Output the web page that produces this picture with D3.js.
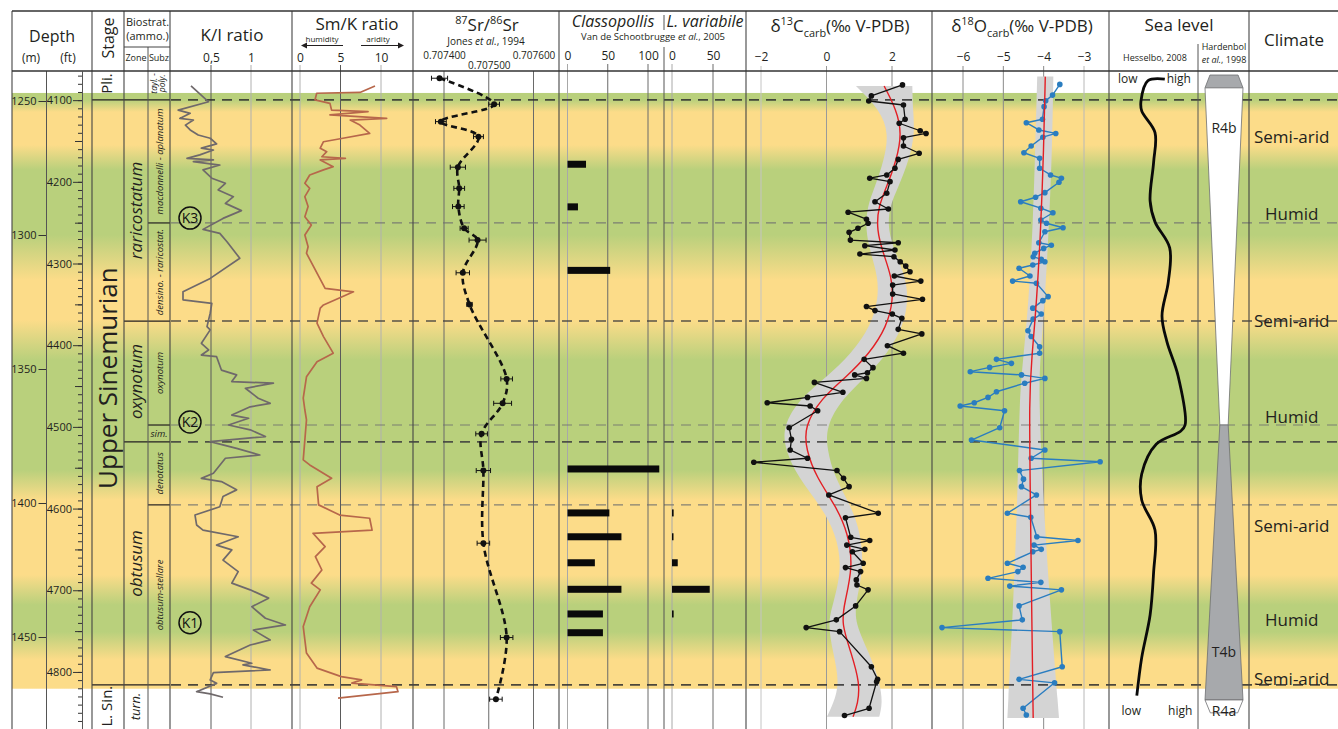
<!DOCTYPE html>
<meta charset='utf-8'>
<style>
  body { margin: 0; background: #fff; }
  svg { font-family: "Open Sans", "Noto Sans", sans-serif; }
</style>
<div class="chart"></div>
<script src="https://d3js.org/d3.v7.min.js"></script>
<script>
// ---------- data (depth in m) ----------
// background climate bands
var bandDepth = [1247.0,1249.6,1254.1,1266.4,1275.7,1300.0,1316.8,1331.7,1346.6,1387.7,1398.9,1426.8,1438.0,1448.1,1458.5,1469.3];
var bandKind = ["humid","humid","arid","arid","humid","humid","arid","arid","humid","humid","arid","arid","humid","humid","arid","arid"];

// biostratigraphy
var bioBounds = [1249.6, 1295.5, 1332.1, 1370.9, 1377.2, 1400.7, 1467.9];
var bioRank = ["stage","subzone","zone","subzone","zone","subzone","stage"];
var stageNames = ["Pli.", "Upper Sinemurian", "L. Sin."];
var stageLabelDepth = [1243.5, 1353.4, 1475.8];
var zoneNames = ["raricostatum", "oxynotum", "obtusum", "turn."];
var zoneTop = [1249.6, 1332.1, 1377.2, 1467.9];
var zoneBase = [1332.1, 1377.2, 1467.9, 1484.0];
var subzNames = ["macdonnelli - aplanatum", "densino. - raricostat.", "oxynotum", "sim.", "denotatus", "obtusum-stellare"];
var subzTop = [1249.6, 1295.5, 1332.1, 1370.9, 1377.2, 1400.7];
var subzBase = [1295.5, 1332.1, 1370.9, 1377.2, 1400.7, 1467.9];
var kNames = ["K3", "K2", "K1"];
var kDepth = [1293.7, 1369.8, 1444.7];

// K/I ratio
var kiDepth = [1244.4,1250.3,1253.4,1254.6,1256.5,1257.1,1259.0,1260.8,1262.7,1263.9,1266.0,1267.6,1268.3,1270.1,1271.4,1272.0,1272.6,1273.9,1275.7,1278.8,1280.7,1283.2,1285.7,1288.2,1290.9,1293.8,1297.9,1299.4,1302.5,1308.7,1316.2,1321.2,1324.2,1325.5,1329.2,1334.2,1335.4,1340.4,1342.9,1344.8,1345.4,1350.4,1352.2,1354.7,1355.3,1357.2,1360.9,1362.8,1364.1,1367.2,1368.4,1370.9,1372.7,1375.2,1377.1,1379.6,1382.1,1383.3,1388.9,1390.8,1392.0,1395.1,1397.6,1401.4,1404.5,1408.2,1410.1,1412.6,1415.7,1417.5,1421.3,1425.6,1429.9,1432.4,1435.5,1438.7,1443.0,1445.5,1447.4,1451.1,1453.0,1457.3,1459.8,1460.4,1462.3,1463.3,1466.0,1467.3,1470.4,1471.2,1472.5];
var kiValue = [0.25,0.47,0.09,0.24,0.11,0.28,0.18,0.24,0.34,0.49,0.57,0.38,0.53,0.36,0.20,0.53,0.28,0.61,0.40,0.51,0.68,0.59,0.78,0.68,0.88,0.65,0.40,0.61,0.70,0.86,0.49,0.15,0.15,0.51,0.49,0.45,0.49,0.38,0.47,0.38,0.57,0.63,0.82,0.76,1.28,0.93,1.09,1.24,0.99,0.76,0.97,0.72,0.99,1.18,0.49,0.82,1.11,0.68,0.53,0.38,0.63,0.82,0.65,0.61,0.30,0.32,0.40,0.84,0.57,0.76,0.65,0.84,0.76,0.99,1.22,1.01,1.18,1.43,1.03,1.24,0.99,0.68,1.01,0.90,1.24,0.53,0.49,0.57,0.32,0.49,0.65];

// Sm/K ratio
var smDepth = [1244.4,1246.8,1247.1,1249.6,1250.9,1253.4,1254.0,1255.2,1256.5,1257.1,1259.0,1262.1,1263.9,1265.2,1267.6,1268.9,1270.8,1271.4,1272.0,1274.5,1275.7,1277.6,1280.7,1282.6,1285.7,1289.4,1293.2,1296.3,1300.0,1304.4,1306.8,1319.9,1321.2,1326.1,1327.3,1332.9,1337.9,1344.1,1347.3,1352.9,1360.9,1365.3,1369.0,1383.9,1385.8,1390.8,1393.9,1400.7,1404.5,1405.7,1410.1,1411.3,1416.3,1420.0,1425.0,1429.9,1432.4,1438.7,1446.1,1456.0,1461.6,1464.8,1466.0,1467.2,1468.5,1470.4,1472.8];
var smValue = [9.26,7.4,2.06,1.85,3.7,3.9,8.4,3.7,10.7,6.2,7.4,8.6,5.3,2.9,2.5,3.3,2.7,5.6,2.5,4.1,2.9,1.2,0.6,1.2,0.6,1.0,0.6,1.4,0.6,1.0,0.8,3.1,6.6,2.9,2.5,2.1,2.9,4.1,2.1,0.8,0.4,0.6,0.8,0.4,1.2,3.9,2.1,2.3,4.9,8.6,8.9,1.6,3.1,1.9,2.7,1.4,2.5,1.2,0.4,0.8,2.1,5.1,7.6,6.4,11.9,12.1,4.7];

// 87Sr/86Sr (Jones et al., 1994)
var srDepth = [1241.5,1251.2,1257.7,1263.3,1274.7,1282.6,1289.4,1297.5,1301.9,1314.1,1325.9,1353.7,1362.8,1374.2,1387.9,1415.0,1450.2,1473.2];
var srValue = [0.707390,0.707512,0.707393,0.707477,0.707431,0.707434,0.707432,0.707445,0.707475,0.707442,0.707457,0.707540,0.707531,0.707484,0.707488,0.707488,0.707540,0.707516];
var srErr = [0.000018,0.000012,0.000012,0.000011,0.000017,0.000012,0.000013,0.000009,0.000019,0.000015,0.000006,0.000013,0.000020,0.000013,0.000016,0.000014,0.000014,0.000014];

// Classopollis and L. variabile (%)
var claDepth = [1273.6,1289.5,1313.2,1387.3,1403.7,1412.6,1422.3,1432.2,1441.4,1448.4];
var claValue = [23,13,53,114,52,67,34,67,44,44];
var lvDepth = [1403.7,1412.6,1422.3,1432.2,1441.4];
var lvValue = [2,1,7,46,2];

// d13C carb
var cDepth = [1244.0,1248.1,1250.0,1251.5,1256.8,1258.3,1261.1,1262.1,1263.7,1266.8,1269.5,1271.8,1275.1,1277.6,1278.8,1280.1,1284.4,1287.6,1290.3,1291.5,1294.1,1295.6,1297.5,1299.0,1301.9,1302.9,1304.0,1305.6,1307.1,1308.1,1310.0,1311.6,1313.7,1315.3,1317.2,1318.7,1322.0,1324.0,1326.7,1328.2,1329.5,1331.1,1335.2,1336.9,1341.3,1344.1,1346.4,1349.5,1351.4,1352.2,1353.5,1355.0,1358.7,1360.6,1362.6,1363.8,1365.6,1371.9,1376.2,1380.2,1383.3,1384.8,1387.9,1390.8,1393.9,1397.0,1403.8,1405.5,1412.8,1414.0,1415.7,1417.3,1418.2,1422.5,1424.1,1425.6,1428.7,1430.6,1432.4,1438.4,1443.6,1446.5,1448.0,1461.1,1465.8,1466.7,1476.6,1479.3];
var cValue = [2.32,1.37,1.29,2.35,2.40,2.22,2.86,3.04,2.35,2.35,2.83,2.19,2.09,1.84,1.32,1.94,1.84,1.48,1.89,0.66,1.22,1.27,0.96,0.69,0.73,2.19,1.17,2.09,1.02,2.06,2.25,2.42,2.55,2.07,2.88,2.02,2.02,2.93,1.22,1.48,2.01,2.30,2.19,2.91,1.86,2.35,1.15,1.42,1.25,0.86,1.22,-0.37,0.50,-0.58,-1.81,-0.50,-0.27,-1.14,-1.07,-1.11,-0.58,-2.22,0.32,0.52,0.69,0.07,1.58,0.58,0.74,1.32,0.62,1.17,0.79,1.12,0.58,1.04,0.91,0.93,1.27,0.89,0.30,-0.62,0.40,1.37,1.56,1.53,1.30,0.55];
var cTrendDepth = [1244.4,1253.4,1262.1,1272.0,1282.0,1289.4,1298.1,1306.8,1315.6,1324.2,1334.2,1344.1,1352.9,1360.9,1371.5,1380.2,1390.2,1401.4,1411.3,1423.8,1437.4,1444.9,1456.1,1467.3,1474.8,1479.8];
var cTrend = [1.76,2.14,2.30,2.14,1.84,1.58,1.53,1.73,1.99,2.04,1.84,1.32,0.61,-0.16,-0.68,-0.62,-0.32,0.30,0.66,0.81,0.55,0.45,0.76,1.02,0.96,0.81];
var cBand = [0.86,0.50,0.40,0.38,0.36,0.34,0.34,0.38,0.42,0.46,0.50,0.55,0.60,0.65,0.66,0.64,0.56,0.46,0.38,0.33,0.34,0.42,0.55,0.62,0.75,0.80];

// d18O carb
var oDepth = [1243.8,1247.8,1249.9,1252.1,1256.8,1258.1,1260.8,1262.1,1263.5,1266.8,1269.3,1271.4,1275.1,1277.6,1278.8,1280.3,1284.2,1285.9,1287.6,1290.0,1291.7,1294.4,1295.6,1297.3,1298.8,1302.9,1303.8,1305.0,1306.8,1308.1,1309.1,1310.0,1311.2,1312.4,1315.3,1317.2,1318.0,1323.0,1324.5,1327.3,1329.5,1331.4,1335.7,1337.9,1341.7,1344.1,1346.4,1347.9,1349.4,1351.0,1352.2,1353.5,1355.3,1358.5,1360.6,1362.6,1363.8,1365.6,1371.9,1376.5,1380.2,1383.3,1384.6,1387.9,1391.1,1393.9,1397.0,1403.8,1405.3,1412.6,1414.0,1415.7,1417.3,1418.2,1422.5,1424.0,1425.6,1428.1,1429.6,1431.0,1432.4,1438.4,1443.6,1446.5,1448.0,1461.1,1465.8,1467.1,1476.6,1479.1];
var oValue = [-3.60,-3.78,-3.95,-3.99,-4.03,-4.43,-4.12,-3.70,-4.02,-4.31,-4.49,-4.10,-4.10,-3.83,-3.56,-3.62,-3.97,-4.20,-4.57,-4.07,-3.77,-4.07,-3.93,-3.52,-3.97,-4.12,-3.81,-4.00,-4.22,-4.26,-4.06,-3.97,-4.27,-4.61,-4.34,-4.77,-4.18,-3.89,-4.02,-4.27,-4.06,-4.26,-4.39,-4.31,-4.10,-4.10,-5.17,-4.80,-5.34,-5.82,-4.55,-3.97,-4.47,-5.17,-5.38,-5.72,-6.07,-4.97,-5.09,-5.79,-3.97,-4.31,-2.60,-4.60,-4.50,-4.55,-4.18,-4.90,-4.32,-4.17,-3.15,-4.24,-4.06,-4.27,-4.90,-4.51,-4.64,-5.38,-4.07,-4.84,-3.56,-4.61,-4.53,-6.52,-3.60,-3.54,-4.61,-3.73,-4.51,-4.43];
var oTrendDepth = [1240.9,1268.3,1296.9,1324.2,1346.6,1360.8,1398.9,1436.2,1480.2];
var oTrend = [-3.96,-4.00,-4.07,-4.17,-4.30,-4.36,-4.33,-4.30,-4.26];
var oBand = [0.20,0.21,0.20,0.20,0.21,0.24,0.32,0.45,0.64];

// sea level (Hesselbo, 2008), 0 = low, 10 = high
var slDepth = [1241.8,1242.4,1249.9,1253.7,1261.8,1272.9,1287.3,1295.1,1304.8,1317.5,1330.2,1339.8,1352.6,1370.9,1373.3,1378.0,1389.2,1398.9,1410.1,1425.9,1441.8,1457.7,1471.9];
var slValue = [6.4,4.0,3.0,3.1,5.0,4.8,4.3,5.0,7.1,6.9,6.0,6.7,8.3,9.3,8.6,5.2,3.1,3.1,5.0,4.8,4.3,3.1,2.4];

// Hardenbol et al., 1998 cycles (half width 0..1)
var hbDepth = [1240.3, 1245.1, 1370.9, 1473.5, 1478.3];
var hbWidth = [0.74, 1, 0.22, 1, 0.72];
var hbNames = ["R4b", "T4b", "R4a"];
var hbLabelDepth = [1260.1, 1455.6, 1477.6];

// climate
var climateNames = ["Semi-arid","Humid","Semi-arid","Humid","Semi-arid","Humid","Semi-arid"];
var climateDepth = [1263.4, 1292.2, 1332.1, 1367.9, 1408.6, 1443.6, 1465.6];

// tick labels
var kiTicks = [0.5, 1];
var smTicks = [0, 5, 10];
var srTicks = [0.7074, 0.7075, 0.7076];
var claTicks = [0, 50, 100];
var lvTicks = [0, 50];
var cTicks = [-2, 0, 2];
var oTicks = [-6, -5, -4, -3];
var mTicks = [1250, 1300, 1350, 1400, 1450];
var ftTicks = [4100, 4200, 4300, 4400, 4500, 4600, 4700, 4800];

// ---------- drawing ----------
var width = 1338, height = 729;
var ink = "#231f20", yellow = "#fcdc89", green = "#b9d07c";

var svg = d3.select(".chart").append("svg")
  .attr("width", width)
  .attr("height", height);

var y = d3.scaleLinear().domain([1250, 1450]).range([101, 637]);
var yFt = d3.scaleLinear()
  .domain([y.invert(71) / 0.3048, y.invert(729) / 0.3048])
  .range([71, 729]);

var xKI = d3.scaleLinear().domain([0, 1.5]).range([171, 291]);
var xSm = d3.scaleLinear().domain([0, 10]).range([300, 381]);
var xSr = d3.scaleLinear().domain([0.7074, 0.7076]).range([444, 533.5]);
var xCla = d3.scaleLinear().domain([0, 100]).range([567.5, 648]);
var xLv = d3.scaleLinear().domain([0, 50]).range([672, 713]);
var xC = d3.scaleLinear().domain([-2, 2]).range([761, 892]);
var xO = d3.scaleLinear().domain([-6, -3]).range([963, 1084]);
var xSea = d3.scaleLinear().domain([0, 10]).range([1120, 1190]);
var xHb = d3.scaleLinear().domain([-1, 1]).range([1205, 1243]);

// background gradient
var defs = svg.append("defs");
var y0 = y(bandDepth[0]), y1 = y(bandDepth[bandDepth.length - 1]);
var grad = defs.append("linearGradient")
  .attr("id", "bg")
  .attr("gradientUnits", "userSpaceOnUse")
  .attr("x1", 0).attr("x2", 0)
  .attr("y1", y0).attr("y2", y1);
grad.selectAll("stop")
  .data(bandDepth)
  .join("stop")
  .attr("offset", function(d) { return (y(d) - y0) / (y1 - y0); })
  .attr("stop-color", function(d, i) { return bandKind[i] == "humid" ? green : yellow; });

svg.append("rect")
  .attr("x", 12).attr("y", y0)
  .attr("width", width - 12).attr("height", y1 - y0)
  .attr("fill", "url(#bg)");

// grid lines from the tick positions
function grid(scale, vals, colors, top) {
  svg.append("g").selectAll("line")
    .data(vals)
    .join("line")
    .attr("x1", function(d) { return scale(d); })
    .attr("x2", function(d) { return scale(d); })
    .attr("y1", top).attr("y2", height)
    .attr("stroke", function(d, i) { return colors[i]; })
    .attr("stroke-width", 1);
}
grid(xKI, kiTicks, ["#5a5a5a", "#b0b0b0"], 65);
grid(xSm, smTicks, ["#b0b0b0", "#5a5a5a", "#b0b0b0"], 65);
grid(xSr, srTicks, ["#6a6a6a", "#6a6a6a", "#6a6a6a"], 71);
grid(xCla, claTicks, ["#a8a8a8", "#6a6a6a", "#6a6a6a"], 64);
grid(xLv, lvTicks, ["#a8a8a8", "#6a6a6a"], 64);
grid(xC, cTicks, ["#c4c4c4", "#9a9a9a", "#8a8a8a"], 66);
grid(xO, oTicks, ["#8a8a8a", "#8a8a8a", "#8a8a8a", "#b8b8b8"], 66);

// trend bands
function band(depths, vals, half, x, color) {
  var pts = depths.map(function(d, i) { return [d, vals[i], half[i]]; });
  svg.append("path")
    .datum(pts)
    .attr("fill", color)
    .attr("d", d3.area()
      .y(function(d) { return y(d[0]); })
      .x0(function(d) { return x(d[1] - d[2]); })
      .x1(function(d) { return x(d[1] + d[2]); })
      .curve(d3.curveBasis));
}
band(cTrendDepth, cTrend, cBand, xC, "#d4d4d4");
band(oTrendDepth, oTrend, oBand, xO, "#d4d4d4");

// boundary lines: solid inside the biostrat columns, dashed across the rest
var rankX = { stage: 92, zone: 124, subzone: 148 };
var rankStroke = { stage: "#2e2e2e", zone: "#3c3c3c", subzone: "#707070" };
var rankWidth = { stage: 1.8, zone: 1.6, subzone: 1.2 };
svg.append("g").selectAll("line")
  .data(bioBounds)
  .join("line")
  .attr("x1", function(d, i) { return rankX[bioRank[i]]; })
  .attr("x2", 170)
  .attr("y1", function(d) { return y(d); })
  .attr("y2", function(d) { return y(d); })
  .attr("stroke", ink).attr("stroke-width", 1.2);
svg.append("g").selectAll("line")
  .data(bioBounds)
  .join("line")
  .attr("x1", 171).attr("x2", width)
  .attr("y1", function(d) { return y(d); })
  .attr("y2", function(d) { return y(d); })
  .attr("stroke", function(d, i) { return rankStroke[bioRank[i]]; })
  .attr("stroke-width", function(d, i) { return rankWidth[bioRank[i]]; })
  .attr("stroke-dasharray", "10,7")
  .attr("opacity", 0.85);

// generic depth series
function series(depths, vals, x, color, w, curve, dash) {
  var pts = d3.zip(depths, vals);
  svg.append("path")
    .datum(pts)
    .attr("fill", "none")
    .attr("stroke", color)
    .attr("stroke-width", w)
    .attr("stroke-linejoin", "round")
    .attr("stroke-dasharray", dash || null)
    .attr("d", d3.line()
      .x(function(d) { return x(d[1]); })
      .y(function(d) { return y(d[0]); })
      .curve(curve || d3.curveLinear));
  return pts;
}
function dots(pts, x, color, r) {
  svg.append("g").selectAll("circle")
    .data(pts)
    .join("circle")
    .attr("cx", function(d) { return x(d[1]); })
    .attr("cy", function(d) { return y(d[0]); })
    .attr("r", r)
    .attr("fill", color);
}

series(kiDepth, kiValue, xKI, "#6f696b", 1.7);
series(smDepth, smValue, xSm, "#b7674b", 1.7);

// Sr isotopes
series(srDepth, srValue, xSr, "#111", 2.6, d3.curveCatmullRom.alpha(0.5), "6,4");
var srPts = srDepth.map(function(d, i) { return [d, srValue[i], srErr[i]]; });
var srG = svg.append("g").attr("stroke", "#111").attr("stroke-width", 1);
srG.selectAll(".eb").data(srPts).join("line")
  .attr("x1", function(d) { return xSr(d[1] - d[2]); })
  .attr("x2", function(d) { return xSr(d[1] + d[2]); })
  .attr("y1", function(d) { return y(d[0]); })
  .attr("y2", function(d) { return y(d[0]); });
srG.selectAll(".cl").data(srPts).join("line")
  .attr("x1", function(d) { return xSr(d[1] - d[2]); })
  .attr("x2", function(d) { return xSr(d[1] - d[2]); })
  .attr("y1", function(d) { return y(d[0]) - 2.5; })
  .attr("y2", function(d) { return y(d[0]) + 2.5; });
srG.selectAll(".cr").data(srPts).join("line")
  .attr("x1", function(d) { return xSr(d[1] + d[2]); })
  .attr("x2", function(d) { return xSr(d[1] + d[2]); })
  .attr("y1", function(d) { return y(d[0]) - 2.5; })
  .attr("y2", function(d) { return y(d[0]) + 2.5; });
dots(srPts, xSr, "#111", 3);

// pollen bars
function bars(depths, vals, x) {
  svg.append("g").selectAll("rect")
    .data(d3.zip(depths, vals))
    .join("rect")
    .attr("x", x(0))
    .attr("y", function(d) { return y(d[0]) - 3.5; })
    .attr("width", function(d) { return Math.max(1.5, x(d[1]) - x(0)); })
    .attr("height", 7)
    .attr("fill", "#0a0a0a");
}
bars(claDepth, claValue, xCla);
bars(lvDepth, lvValue, xLv);

// d13C
series(cTrendDepth, cTrend, xC, "#e31e24", 1.4, d3.curveBasis);
var cPts = series(cDepth, cValue, xC, "#111", 1.3);
dots(cPts, xC, "#111", 2.8);

// d18O
var oPts = series(oDepth, oValue, xO, "#2a7dc0", 1.4);
dots(oPts, xO, "#2a7dc0", 2.8);
series(oTrendDepth, oTrend, xO, "#e31e24", 1.4, d3.curveBasis);

// sea level curve
series(slDepth, slValue, xSea, "#0a0a0a", 2.8, d3.curveCatmullRom.alpha(0.5));

// Hardenbol cycles
function hbPoly(i, j, fill) {
  var pts = [[xHb(-hbWidth[i]), y(hbDepth[i])], [xHb(hbWidth[i]), y(hbDepth[i])],
             [xHb(hbWidth[j]), y(hbDepth[j])], [xHb(-hbWidth[j]), y(hbDepth[j])]];
  svg.append("polygon")
    .attr("points", pts.map(function(p) { return p.join(","); }).join(" "))
    .attr("fill", fill).attr("stroke", "#6d6e71").attr("stroke-width", 0.8);
}
hbPoly(0, 1, "#a7a9ac");
hbPoly(1, 2, "#fff");
hbPoly(2, 3, "#a7a9ac");
hbPoly(3, 4, "#fff");
svg.append("g").selectAll("text")
  .data(hbNames)
  .join("text")
  .attr("x", 1224)
  .attr("y", function(d, i) { return y(hbLabelDepth[i]) + 5; })
  .attr("text-anchor", "middle")
  .attr("font-size", 14)
  .attr("fill", ink)
  .text(function(d) { return d; });

// K markers
var kG = svg.append("g").selectAll("g")
  .data(kNames)
  .join("g")
  .attr("transform", function(d, i) { return "translate(190," + y(kDepth[i]) + ")"; });
kG.append("circle").attr("r", 11).attr("fill", "none").attr("stroke", "#111").attr("stroke-width", 1.5);
kG.append("text").attr("y", 5).attr("text-anchor", "middle").attr("font-size", 14)
  .attr("fill", "#111").text(function(d) { return d; });

// climate labels
svg.append("g").selectAll("text")
  .data(climateNames)
  .join("text")
  .attr("x", function(d) { return d == "Humid" ? 1265 : 1254; })
  .attr("y", function(d, i) { return y(climateDepth[i]) + 6; })
  .attr("font-size", 17)
  .attr("fill", ink)
  .text(function(d) { return d; });

// stratigraphic names
function vText(x, yy, txt, size, italic) {
  return svg.append("text")
    .attr("transform", "translate(" + x + "," + yy + ") rotate(-90)")
    .attr("text-anchor", "middle")
    .attr("font-size", size)
    .attr("font-style", italic ? "italic" : null)
    .attr("fill", ink)
    .text(txt);
}
stageNames.forEach(function(s, i) {
  var big = s == "Upper Sinemurian";
  vText(big ? 117 : 112, y(stageLabelDepth[i]), s, big ? 26 : 15);
});
zoneNames.forEach(function(s, i) {
  var small = s == "turn.";
  vText(small ? 140 : 142, y((zoneTop[i] + zoneBase[i]) / 2), s, small ? 13 : 17, true);
});
subzNames.forEach(function(s, i) {
  var yy = y((subzTop[i] + subzBase[i]) / 2);
  if (s == "sim.") {
    svg.append("text").attr("x", 159).attr("y", yy + 3.5).attr("text-anchor", "middle")
      .attr("font-size", 9.5).attr("font-style", "italic").attr("fill", ink).text(s);
  } else {
    vText(162.5, yy, s, 9.5, true);
  }
});
vText(157, y(1243.4), "tayl. -", 8.5, true);
vText(165, y(1243.4), "poly.", 8.5, true);

// depth axes
var mAxis = svg.append("g")
  .attr("transform", "translate(46.5,0)")
  .call(d3.axisLeft(y).tickValues(mTicks).tickSize(8).tickPadding(2).tickFormat(d3.format("d")));
var ftMinor = svg.append("g")
  .attr("transform", "translate(82,0)")
  .call(d3.axisLeft(yFt).tickValues(d3.range(4070, 4880, 10)).tickSize(4).tickSizeOuter(0).tickFormat(""));
var ftMid = svg.append("g")
  .attr("transform", "translate(82,0)")
  .call(d3.axisLeft(yFt).tickValues(d3.range(4150, 4850, 100)).tickSize(7).tickFormat(""));
var ftMajor = svg.append("g")
  .attr("transform", "translate(82,0)")
  .call(d3.axisLeft(yFt).tickValues(ftTicks).tickSize(9).tickPadding(1).tickFormat(d3.format("d")));
[mAxis, ftMid, ftMajor].forEach(function(g) { g.select(".domain").remove(); });
[mAxis, ftMinor, ftMid, ftMajor].forEach(function(g) {
  g.attr("font-family", null).attr("font-size", 11);
  g.selectAll("line").attr("stroke", "#333");
  g.selectAll("path").attr("stroke", "#555");
  g.selectAll("text").attr("fill", ink);
});

// frame
var fullCols = [12, 92, 124, 170, 292, 413, 559, 746, 932, 1109, 1249];
svg.append("g").selectAll("line")
  .data(fullCols)
  .join("line")
  .attr("x1", function(d) { return d; }).attr("x2", function(d) { return d; })
  .attr("y1", 11).attr("y2", height)
  .attr("stroke", "#444").attr("stroke-width", 1.1);
var partCols = [[46.5, 71], [148, 47], [664, 47], [1198, 44]];
svg.append("g").selectAll("line")
  .data(partCols)
  .join("line")
  .attr("x1", function(d) { return d[0]; }).attr("x2", function(d) { return d[0]; })
  .attr("y1", function(d) { return d[1]; }).attr("y2", height)
  .attr("stroke", "#555").attr("stroke-width", 1);
svg.append("line").attr("x1", 664).attr("x2", 664).attr("y1", 15).attr("y2", 30)
  .attr("stroke", "#555");
svg.append("line").attr("x1", 124).attr("x2", 170).attr("y1", 47).attr("y2", 47)
  .attr("stroke", "#444");
[11, 71].forEach(function(h) {
  svg.append("line").attr("x1", 12).attr("x2", width).attr("y1", h).attr("y2", h)
    .attr("stroke", "#333").attr("stroke-width", 1.3);
});

// header texts
function label(x, yy, parts, size, anchor) {
  var t = svg.append("text").attr("x", x).attr("y", yy)
    .attr("font-size", size).attr("text-anchor", anchor || "middle").attr("fill", ink);
  var prev = 0;
  parts.forEach(function(p) {
    if (typeof p == "string") p = [p];
    var shift = p[1] == "sup" ? -0.42 * size : p[1] == "sub" ? 0.3 * size : 0;
    t.append("tspan")
      .attr("dy", shift - prev)
      .attr("font-size", (p[1] == "sup" || p[1] == "sub") ? size * 0.64 : size)
      .attr("font-style", p[1] == "it" ? "italic" : null)
      .text(p[0]);
    prev = shift;
  });
  return t;
}
label(52, 42, ["Depth"], 16);
label(31, 62, ["(m)"], 12);
label(68, 62, ["(ft)"], 12);
vText(114, 38, "Stage", 16);
label(147.5, 26, ["Biostrat."], 11);
label(147.5, 40, ["(ammo.)"], 11);
label(136, 61, ["Zone"], 9);
label(159, 61, ["Subz"], 9);
label(232, 41, ["K/I ratio"], 17);
label(357, 30, ["Sm/K ratio"], 17);
label(322, 42, ["humidity"], 8);
label(378, 42, ["aridity"], 8);
svg.append("path").attr("d", "M343,45.5H305").attr("stroke", ink).attr("stroke-width", 1);
svg.append("path").attr("d", "M301,45.5l6,-3v6z").attr("fill", ink);
svg.append("path").attr("d", "M361,45.5H400").attr("stroke", ink).attr("stroke-width", 1);
svg.append("path").attr("d", "M404,45.5l-6,-3v6z").attr("fill", ink);
label(487, 31, [["87", "sup"], "Sr/", ["86", "sup"], "Sr"], 17);
label(486, 45, ["Jones ", ["et al.", "it"], ", 1994"], 10);
label(613, 27, [["Classopollis", "it"]], 16);
label(705, 27, [["L. variabile", "it"]], 16);
label(653, 40, ["Van de Schootbrugge ", ["et al.", "it"], ", 2005"], 9.5);
label(840, 32, ["δ", ["13", "sup"], "C", ["carb", "sub"], "(‰ V-PDB)"], 17);
label(1022, 32, ["δ", ["18", "sup"], "O", ["carb", "sub"], "(‰ V-PDB)"], 17);
label(1179, 31, ["Sea level"], 17);
label(1155, 61, ["Hesselbo, 2008"], 9);
label(1224, 50, ["Hardenbol"], 9);
label(1224, 63, [["et al.", "it"], ", 1998"], 9);
label(1294, 46, ["Climate"], 17);
label(xSea(1.1), 83, ["low"], 12);
label(xSea(8.4), 83, ["high"], 12);
label(xSea(1.6), 715, ["low"], 12);
label(xSea(8.6), 715, ["high"], 12);

// header tick labels through d3 axes
function headerAxis(scale, vals, fmt, ty, fs) {
  var g = svg.append("g")
    .attr("transform", "translate(0," + ty + ")")
    .call(d3.axisTop(scale).tickValues(vals).tickSize(0).tickPadding(0).tickFormat(fmt));
  g.select(".domain").remove();
  g.attr("font-family", null).attr("font-size", fs);
  g.selectAll("text").attr("fill", ink);
  return g;
}
headerAxis(xKI, kiTicks, function(d) { return d == 0.5 ? "0,5" : d; }, 62, 12);
headerAxis(xSm, smTicks, d3.format("d"), 62, 12);
headerAxis(xSr, [0.7074, 0.7076], d3.format(".6f"), 59, 10);
headerAxis(xSr, [0.7075], d3.format(".6f"), 69, 10);
headerAxis(xCla, claTicks, d3.format("d"), 60, 12);
headerAxis(xLv, lvTicks, d3.format("d"), 60, 12);
headerAxis(xC, cTicks, d3.format("d"), 61, 12);
headerAxis(xO, oTicks, d3.format("d"), 61, 12);
</script>
